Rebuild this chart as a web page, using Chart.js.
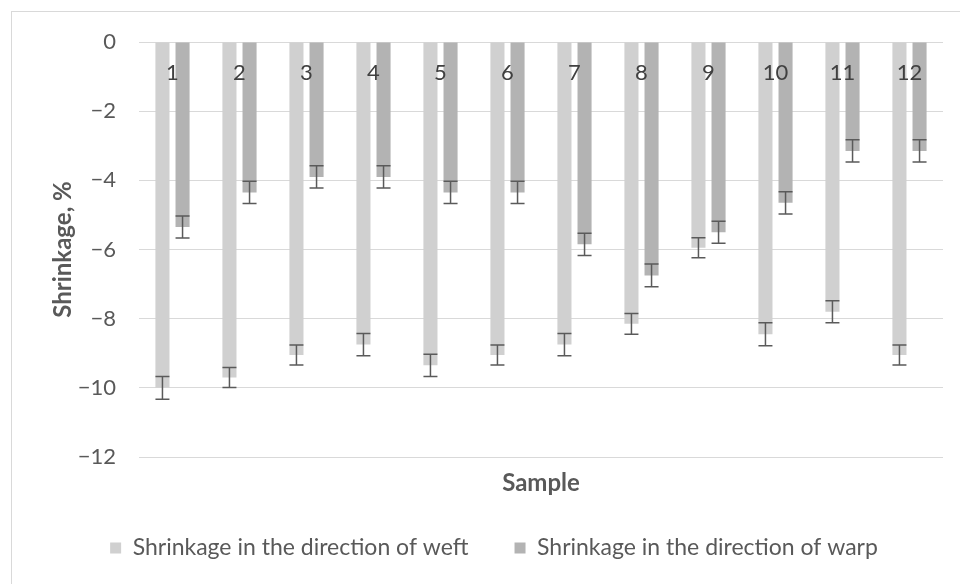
<!DOCTYPE html>
<html>
<head>
<meta charset="utf-8">
<title>Shrinkage</title>
<script src="https://cdn.jsdelivr.net/npm/chart.js@4.4.0/dist/chart.umd.min.js"></script>
<style>
  html, body { margin: 0; padding: 0; background: #fff; overflow: hidden; }
  #frame {
    position: absolute; left: 11px; top: 11px;
    width: 982px; height: 600px;
    border-left: 1px solid #d9d9d9; border-top: 1px solid #d9d9d9;
  }
</style>
</head>
<body>
<div id="frame"><canvas id="shrinkChart"></canvas></div>
<script>
// data
const samples = ['1', '2', '3', '4', '5', '6', '7', '8', '9', '10', '11', '12'];
const weftValues = [-10.0, -9.7, -9.05, -8.75, -9.35, -9.05, -8.75, -8.15, -5.95, -8.45, -7.8, -9.05];
const weftErrors = [0.33, 0.29, 0.29, 0.32, 0.32, 0.29, 0.32, 0.3, 0.29, 0.33, 0.32, 0.29];
const warpValues = [-5.35, -4.35, -3.9, -3.9, -4.35, -4.35, -5.85, -6.75, -5.5, -4.65, -3.15, -3.15];
const warpErrors = [0.32, 0.32, 0.32, 0.32, 0.32, 0.32, 0.32, 0.33, 0.32, 0.32, 0.32, 0.32];
const yMin = -12;
const yMax = 0;
const yStep = 2;

const FONT = 'Lato, "Open Sans", sans-serif';

// error bars on top of each bar
const errorBars = {
  id: 'errorBars',
  afterDatasetsDraw(chart) {
    const ctx = chart.ctx;
    const y = chart.scales.y;
    const errs = [weftErrors, warpErrors];
    ctx.save();
    ctx.strokeStyle = '#5a5a5a';
    ctx.lineWidth = 1.5;
    chart.data.datasets.forEach((ds, i) => {
      chart.getDatasetMeta(i).data.forEach((bar, j) => {
        const v = ds.data[j];
        const e = errs[i][j];
        const top = y.getPixelForValue(v + e);
        const bot = y.getPixelForValue(v - e);
        ctx.beginPath();
        ctx.moveTo(bar.x, top); ctx.lineTo(bar.x, bot);
        ctx.moveTo(bar.x - 7, top); ctx.lineTo(bar.x + 7, top);
        ctx.moveTo(bar.x - 7, bot); ctx.lineTo(bar.x + 7, bot);
        ctx.stroke();
      });
    });
    ctx.restore();
  }
};

// sample numbers sit just under the zero line, like the original
const sampleLabels = {
  id: 'sampleLabels',
  afterDatasetsDraw(chart) {
    const ctx = chart.ctx;
    const x = chart.scales.x;
    const y0 = chart.scales.y.getPixelForValue(0);
    ctx.save();
    ctx.fillStyle = '#404040';
    ctx.font = '22px ' + FONT;
    ctx.textAlign = 'center';
    ctx.textBaseline = 'middle';
    samples.forEach((s, j) => {
      ctx.fillText(s, x.getPixelForValue(j), y0 + 31);
    });
    ctx.restore();
  }
};

const ctx = document.getElementById('shrinkChart').getContext('2d');
new Chart(ctx, {
  type: 'bar',
  data: {
    labels: samples,
    datasets: [{
      label: 'Shrinkage in the direction of weft',
      data: weftValues,
      backgroundColor: '#d0d0d0',
      categoryPercentage: 0.6,
      barPercentage: 0.7
    }, {
      label: 'Shrinkage in the direction of warp',
      data: warpValues,
      backgroundColor: '#b3b3b3',
      categoryPercentage: 0.6,
      barPercentage: 0.7
    }]
  },
  options: {
    responsive: true,
    maintainAspectRatio: false,
    animation: false,
    layout: { padding: { left: 33, right: 51, top: 30, bottom: 42.5 } },
    plugins: {
      tooltip: { enabled: false },
      legend: {
        position: 'bottom',
        labels: {
          boxWidth: 11,
          boxHeight: 11,
          padding: 46,
          color: '#595959',
          font: { family: FONT, size: 23 }
        }
      }
    },
    scales: {
      x: {
        grid: { display: false },
        border: { display: false },
        ticks: { display: false },
        title: {
          display: true,
          text: 'Sample',
          color: '#595959',
          font: { family: FONT, size: 24, weight: 'bold', lineHeight: 0.625 },
          padding: { top: 0, bottom: 0 }
        },
        afterFit: s => { s.height = 33.5; }
      },
      y: {
        min: yMin,
        max: yMax,
        ticks: {
          stepSize: yStep,
          padding: 23,
          color: '#595959',
          font: { family: FONT, size: 22 },
          callback: v => String(v).replace('-', '\u2212')
        },
        grid: { color: '#d9d9d9', drawTicks: false },
        border: { display: false },
        title: {
          display: true,
          text: 'Shrinkage, %',
          color: '#595959',
          font: { family: FONT, size: 24, weight: 'bold' },
          padding: { top: 4, bottom: 4 }
        },
        afterFit: s => {
          s.width = 94;
          s.paddingTop = 0;
          s.paddingBottom = 0;
        }
      }
    }
  },
  plugins: [errorBars, sampleLabels]
});
</script>
</body>
</html>
